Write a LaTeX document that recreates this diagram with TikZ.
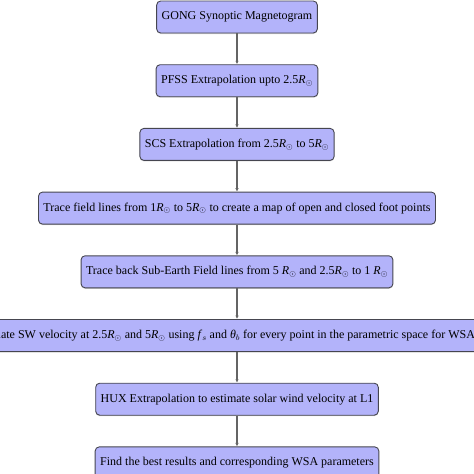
\documentclass[tikz,border=0pt]{standalone}
\usepackage{fontspec}
\setmainfont{Liberation Serif}
\usepackage{tikz}
\usetikzlibrary{arrows.meta, positioning, shadows}
\definecolor{stepfill}{RGB}{179,179,250}
\definecolor{bordercolor}{RGB}{70,70,80}
\definecolor{arrowgray}{RGB}{100,100,100}
\newcommand{\Rsun}{\textit{R}$_\odot$}
\tikzset{
  stage/.style = {draw=bordercolor, line width=0.9pt, rounded corners=4pt,
                  fill=stepfill, font=\fontsize{12}{14}\selectfont,
                  minimum height=32pt, inner xsep=5pt,
                  drop shadow={shadow xshift=0pt, shadow yshift=-1pt, opacity=0.35}},
  arr/.style   = {-{Latex[length=3.5pt,width=3.5pt]}, line width=1.3pt, color=arrowgray},
}
\begin{document}
\begin{tikzpicture}[node distance=30.8pt, x=1pt, y=1pt]
  \useasboundingbox (0,0) rectangle (474,-474);
  \node[stage] (gong) at (237,-17) {GONG Synoptic Magnetogram};
  \node[stage, below=of gong] (pfss) {PFSS Extrapolation upto 2.5\Rsun};
  \node[stage, below=of pfss] (scs) {SCS Extrapolation from 2.5\Rsun{} to 5\Rsun};
  \node[stage, below=of scs] (trace) {Trace field lines from 1\Rsun{} to 5\Rsun{} to create a map of open and closed foot points};
  \node[stage, below=of trace] (back) {Trace back Sub-Earth Field lines from 5 \Rsun{} and 2.5\Rsun{} to 1 \Rsun};
  % wide box, runs past both edges
  \node[stage, below=of back] (wsa) {Estimate SW velocity at 2.5\Rsun{} and 5\Rsun{} using \textit{f}$_s$ and \textit{θ}$_b$ for every point in the parametric space for WSA\rule{26pt}{0pt}};
  \node[stage, below=of wsa] (hux) {HUX Extrapolation to estimate solar wind velocity at L1};
  \node[stage, below=of hux] (best) {Find the best results and corresponding WSA parameters};

  \foreach \a/\b in {gong/pfss, pfss/scs, scs/trace, trace/back, back/wsa, wsa/hux, hux/best}
    \draw[arr] (\a) -- (\b);
\end{tikzpicture}
\end{document}
